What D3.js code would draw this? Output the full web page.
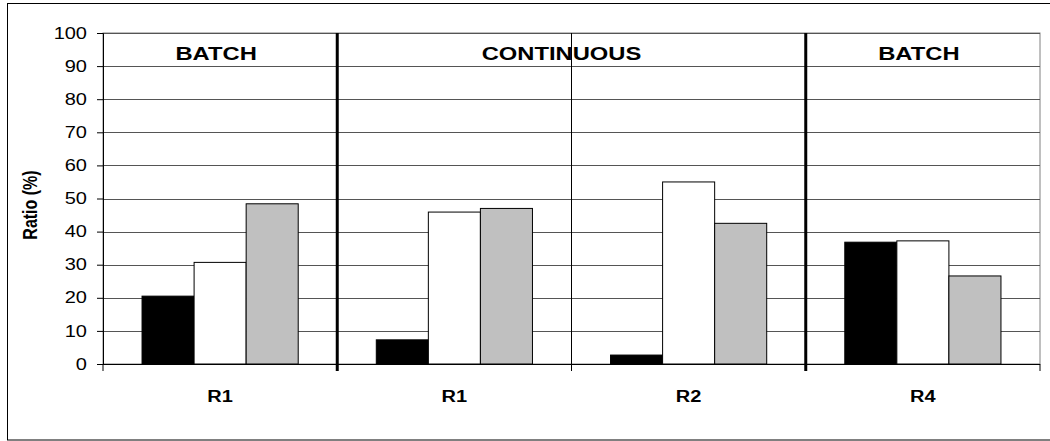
<!DOCTYPE html>
<html>
<head>
<meta charset="utf-8">
<script src="https://cdn.jsdelivr.net/npm/d3@7"></script>
<style>
  body { margin: 0; background: #fff; }
  svg { display: block; }
  text { font-family: "Liberation Sans", Arial, sans-serif; fill: #000; }
</style>
</head>
<body>
<div id="chart"></div>
<script>
// categories and values
const groups = ["R1", "R1", "R2", "R4"];
const seriesNames = ["black", "white", "grey"];
const blackVals = [20.5, 7.3, 2.7, 36.8];
const whiteVals = [30.7, 45.9, 55.0, 37.2];
const greyVals  = [48.4, 47.0, 42.5, 26.6];
const yTicks = [0, 10, 20, 30, 40, 50, 60, 70, 80, 90, 100];

// sections shown on top (BATCH / CONTINUOUS / BATCH)
const sectionLabels = ["BATCH", "CONTINUOUS", "BATCH"];
const sectionStart = [0, 1, 3];
const sectionEnd = [0, 2, 3];

const W = 1050, H = 441;
const margin = { top: 33, right: 10, bottom: 77, left: 103 };
const width = W - margin.left - margin.right,
      height = H - margin.top - margin.bottom;
const sx = 1.25; // the original picture is stretched horizontally

const svgRoot = d3.select("#chart").append("svg")
  .attr("width", W)
  .attr("height", H);

// outer frame
svgRoot.append("rect")
  .attr("x", 7.5).attr("y", 3.5)
  .attr("width", W).attr("height", 436.5)
  .attr("fill", "none")
  .attr("stroke", "#000");

const svg = svgRoot.append("g")
  .attr("transform", `translate(${margin.left},${margin.top})`);

const rows = groups.map((g, i) => ({
  i: i, label: g,
  values: [blackVals[i], whiteVals[i], greyVals[i]]
}));

// scales
const x = d3.scaleBand()
  .domain(d3.range(groups.length))
  .range([0, width])
  .paddingInner(0).paddingOuter(0);

const xSub = d3.scaleBand()
  .domain(seriesNames)
  .range([0, x.bandwidth()])
  .paddingInner(0)
  .paddingOuter(0.75);

const y = d3.scaleLinear()
  .domain([0, 100])
  .range([height, 0]);

const color = d3.scaleOrdinal()
  .domain(seriesNames)
  .range(["#000000", "#ffffff", "#c0c0c0"]);

function stretch(sel) {
  sel.each(function () {
    const t = d3.select(this);
    const tx = +t.attr("x") || 0, ty = +t.attr("y") || 0;
    t.attr("transform", `translate(${tx},${ty}) scale(${sx},1) translate(${-tx},${-ty})`);
  });
}

// plot area border
svg.append("rect")
  .attr("x", 0).attr("y", 0)
  .attr("width", width).attr("height", height)
  .attr("fill", "none")
  .attr("stroke", "#808080");

// gridlines
svg.append("g")
  .selectAll("line")
  .data(yTicks.filter(d => d > 0))
  .join("line")
    .attr("x1", 0).attr("x2", width)
    .attr("y1", d => Math.round(y(d)) + 0.5)
    .attr("y2", d => Math.round(y(d)) + 0.5)
    .attr("stroke", "#555")
    .attr("stroke-width", 1);

// group separators
for (let i = 1; i < groups.length; i++) {
  const thick = sectionStart.includes(i);
  const xp = x(i);
  svg.append("line")
    .attr("x1", xp).attr("x2", xp)
    .attr("y1", 0).attr("y2", height + 7)
    .attr("stroke", "#000")
    .attr("stroke-width", thick ? 3 : 1);
}

// bars
const grp = svg.selectAll(".grp")
  .data(rows)
  .join("g")
    .attr("class", "grp")
    .attr("transform", d => `translate(${x(d.i)},0)`);

grp.selectAll("rect")
  .data(d => d.values.map((v, k) => ({ key: seriesNames[k], v: v })))
  .join("rect")
    .attr("x", d => xSub(d.key))
    .attr("y", d => y(d.v))
    .attr("width", xSub.bandwidth())
    .attr("height", d => height - y(d.v))
    .attr("fill", d => color(d.key))
    .attr("stroke", "#000")
    .attr("stroke-width", 1);

// y axis
const yAxis = svg.append("g")
  .call(d3.axisLeft(y).tickValues(yTicks).tickSize(6).tickPadding(10));
yAxis.select(".domain").attr("stroke", "#000");
yAxis.selectAll("text")
  .style("font-size", "16px")
  .call(stretch);

// x axis: ticks at group boundaries, labels at centres
const xAxis = svg.append("g")
  .attr("transform", `translate(0,${height})`);
xAxis.append("line")
  .attr("x1", 0).attr("x2", width)
  .attr("y1", 0.5).attr("y2", 0.5)
  .attr("stroke", "#000");
xAxis.selectAll(".tk")
  .data(d3.range(groups.length + 1))
  .join("line")
    .attr("class", "tk")
    .attr("x1", d => d < groups.length ? x(d) : width)
    .attr("x2", d => d < groups.length ? x(d) : width)
    .attr("y1", 0).attr("y2", 7)
    .attr("stroke", "#000");
xAxis.selectAll(".lbl")
  .data(rows)
  .join("text")
    .attr("class", "lbl")
    .attr("x", d => x(d.i) + x.bandwidth() / 2)
    .attr("y", 38)
    .attr("text-anchor", "middle")
    .style("font-size", "16px")
    .style("font-weight", "bold")
    .text(d => d.label)
    .call(stretch);

// section titles
svg.selectAll(".sec")
  .data(sectionLabels)
  .join("text")
    .attr("class", "sec")
    .attr("x", (d, i) => (x(sectionStart[i]) + x(sectionEnd[i]) + x.bandwidth()) / 2 - (i === 1 ? 10 : 4))
    .attr("y", 27)
    .attr("text-anchor", "middle")
    .style("font-size", "19px")
    .style("font-weight", "bold")
    .text(d => d)
    .call(stretch);

// y axis title
svgRoot.append("text")
  .attr("transform", `translate(37,205) scale(${sx},1) rotate(-90)`)
  .attr("text-anchor", "middle")
  .style("font-size", "16px")
  .style("font-weight", "bold")
  .text("Ratio (%)");
</script>
</body>
</html>
